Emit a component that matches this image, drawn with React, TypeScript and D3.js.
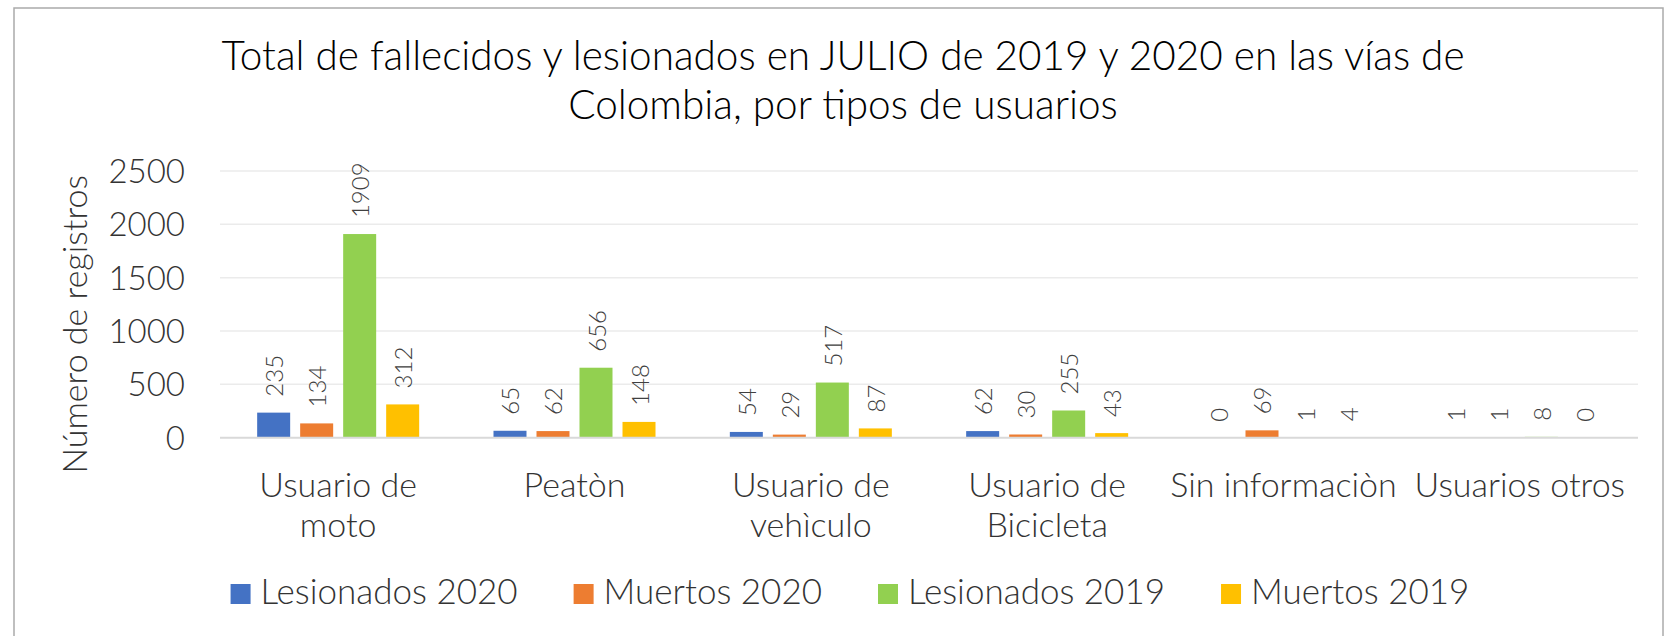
import { useEffect, useRef } from 'react'
import * as d3 from 'd3'

// categories (line breaks as they appear on the axis)
const categories = [
  'Usuario de\nmoto',
  'Peatòn',
  'Usuario de\nvehìculo',
  'Usuario de\nBicicleta',
  'Sin informaciòn',
  'Usuarios otros',
]
const seriesNames = ['Lesionados 2020', 'Muertos 2020', 'Lesionados 2019', 'Muertos 2019']
const seriesColors = ['#4472C4', '#ED7D31', '#92D050', '#FFC000']

const lesionados2020 = [235, 65, 54, 62, 0, 1]
const muertos2020 = [134, 62, 29, 30, 69, 1]
const lesionados2019 = [1909, 656, 517, 255, 1, 8]
const muertos2019 = [312, 148, 87, 43, 4, 0]

const yTicks = [0, 500, 1000, 1500, 2000, 2500]

const titleLines = [
  'Total de fallecidos y lesionados en JULIO de 2019 y 2020 en las vías de',
  'Colombia, por tipos de usuarios',
]

const W = 1673, H = 636
const FONT = 'Lato, "Open Sans", sans-serif'

export default function App() {
  const svgRef = useRef<SVGSVGElement>(null)

  useEffect(() => {
    document.body.style.margin = '0'
    const svg = d3.select(svgRef.current)
    svg.selectAll('*').remove()

    const series = [lesionados2020, muertos2020, lesionados2019, muertos2019]
    const left = 220, right = 1638, top = 171, bottom = 437.7

    // chart frame
    svg.append('rect').attr('x', 0).attr('y', 0).attr('width', W).attr('height', H).attr('fill', '#fff')
    svg.append('rect')
      .attr('x', 14).attr('y', 8).attr('width', 1649).attr('height', 660)
      .attr('fill', 'none').attr('stroke', '#ababab').attr('stroke-width', 1.5)

    // title
    const title = svg.append('text')
      .attr('text-anchor', 'middle').attr('font-family', FONT).attr('font-weight', 300)
      .attr('font-size', 40.5).attr('fill', '#000')
    titleLines.forEach((t, i) => {
      title.append('tspan').attr('x', 843).attr('y', 70 + i * 49).text(t)
    })

    const x0 = d3.scaleBand<number>()
      .domain(d3.range(categories.length))
      .range([left, right])
      .paddingInner(0.3145).paddingOuter(0.3145 / 2)
    const x1 = d3.scaleBand<number>()
      .domain(d3.range(series.length))
      .range([0, x0.bandwidth()])
      .paddingInner(0.2326)
    const y = d3.scaleLinear().domain([0, 2500]).range([bottom, top])

    // gridlines
    svg.append('g').selectAll('line').data(yTicks.filter(t => t > 0)).join('line')
      .attr('x1', left).attr('x2', right)
      .attr('y1', d => y(d)).attr('y2', d => y(d))
      .attr('stroke', '#ebebeb').attr('stroke-width', 1.5)

    // y tick labels
    svg.append('g').selectAll('text').data(yTicks).join('text')
      .attr('x', 185).attr('y', d => y(d))
      .attr('dy', '0.36em').attr('text-anchor', 'end')
      .attr('font-family', FONT).attr('font-weight', 300).attr('font-size', 33)
      .attr('fill', '#333').text(d => d)

    // y axis title
    svg.append('text')
      .attr('transform', `translate(87,${(top + bottom) / 2 + 20}) rotate(-90)`)
      .attr('text-anchor', 'middle')
      .attr('font-family', FONT).attr('font-weight', 300).attr('font-size', 34)
      .attr('fill', '#333').text('Número de registros')

    // bars
    const groups = svg.append('g').selectAll('g').data(categories).join('g')
      .attr('transform', (_, i) => `translate(${x0(i)},0)`)
    groups.selectAll('rect').data((_, ci) => series.map((s, si) => ({ si, v: s[ci] }))).join('rect')
      .attr('x', d => x1(d.si)!)
      .attr('y', d => y(d.v))
      .attr('width', x1.bandwidth())
      .attr('height', d => bottom - y(d.v))
      .attr('fill', d => seriesColors[d.si])

    // data labels
    groups.selectAll('text').data((_, ci) => series.map((s, si) => ({ si, v: s[ci] }))).join('text')
      .attr('transform', d => `translate(${x1(d.si)! + x1.bandwidth() / 2},${y(d.v) - 16}) rotate(-90)`)
      .attr('dominant-baseline', 'central')
      .attr('font-family', FONT).attr('font-weight', 300).attr('font-size', 24)
      .attr('fill', '#404040').text(d => d.v)

    // baseline
    svg.append('line')
      .attr('x1', left).attr('x2', right).attr('y1', bottom).attr('y2', bottom)
      .attr('stroke', '#d9d9d9').attr('stroke-width', 2)

    // category labels
    const cat = svg.append('g').selectAll('text').data(categories).join('text')
      .attr('text-anchor', 'middle')
      .attr('font-family', FONT).attr('font-weight', 300).attr('font-size', 34)
      .attr('fill', '#333')
    cat.each(function (d, i) {
      const t = d3.select(this)
      d.split('\n').forEach((line, li) => {
        t.append('tspan').attr('x', x0(i)! + x0.bandwidth() / 2).attr('y', 497 + li * 40).text(line)
      })
    })

    // legend
    const legend = svg.append('g')
    const items = legend.selectAll('g').data(seriesNames).join('g')
    items.append('rect').attr('width', 20).attr('height', 20).attr('y', -20)
      .attr('fill', (_, i) => seriesColors[i])
    items.append('text').attr('x', 30)
      .attr('font-family', FONT).attr('font-weight', 300).attr('font-size', 35)
      .attr('fill', '#333').text(d => d)
    let cx = 0
    const gap = 56
    items.each(function () {
      const g = this as SVGGElement
      const w = (g.querySelector('text') as SVGTextElement).getComputedTextLength() + 30
      d3.select(g).attr('transform', `translate(${cx},0)`)
      cx += w + gap
    })
    const total = cx - gap
    legend.attr('transform', `translate(${850 - total / 2},604)`)
  }, [])

  return <svg ref={svgRef} width={W} height={H} style={{ display: 'block' }} />
}
